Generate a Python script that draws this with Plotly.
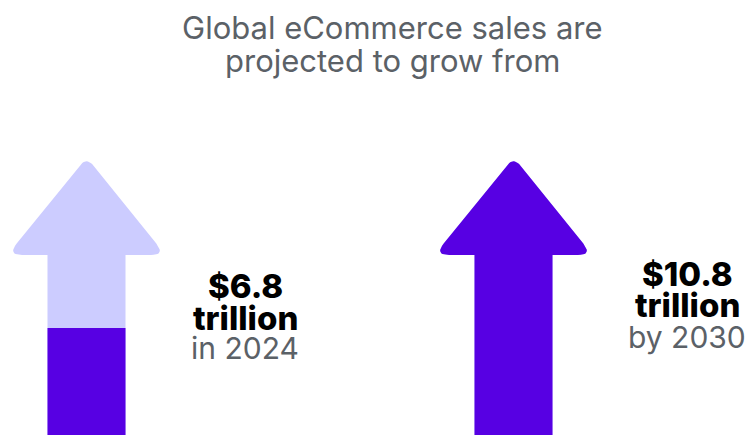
import math
import plotly.graph_objects as go

# --- data -------------------------------------------------------------
years = ["2024", "2030"]
sales_trillion = [6.8, 10.8]
value_labels = ["$6.8", "$10.8"]
unit_labels = ["trillion", "trillion"]
period_labels = ["in 2024", "by 2030"]
title_lines = ["Global eCommerce sales are", "projected to grow from"]

# --- layout constants ------------------------------------------------
W, H = 750, 435
Y_MIN, Y_MAX = 4.297, 14.472          # visible value window (trillions)
PX_PER_UNIT = H / (Y_MAX - Y_MIN)      # vertical pixels per trillion
ARROW_CENTERS = [86.5, 513.5]          # x positions of the arrows (x axis = px)
SHAFT_W = 78
HEAD_W = 158
HEAD_H_PX = 98
LIGHT = "#CCCCFF"
DARK = "#5700E3"
TEXT_GRAY = "#5B6167"

tip_value = max(sales_trillion)        # both arrows reach the projected peak
head_base = tip_value - HEAD_H_PX / PX_PER_UNIT


def rounded(points, radii, steps=10):
    """Round polygon corners; works in pixel space, returns value space."""
    pts = [(x, y * PX_PER_UNIT) for x, y in points]
    n = len(pts)
    out = []
    for i in range(n):
        r = radii[i]
        px, py = pts[i]
        if r <= 0:
            out.append((px, py))
            continue
        ax, ay = pts[i - 1]
        bx, by = pts[(i + 1) % n]
        v1 = (ax - px, ay - py)
        v2 = (bx - px, by - py)
        l1 = math.hypot(*v1)
        l2 = math.hypot(*v2)
        u1 = (v1[0] / l1, v1[1] / l1)
        u2 = (v2[0] / l2, v2[1] / l2)
        cosang = max(-1.0, min(1.0, u1[0] * u2[0] + u1[1] * u2[1]))
        ang = math.acos(cosang)
        d = r / math.tan(ang / 2)
        p1 = (px + u1[0] * d, py + u1[1] * d)
        p2 = (px + u2[0] * d, py + u2[1] * d)
        # quadratic bezier through the corner
        for k in range(steps + 1):
            t = k / steps
            x = (1 - t) ** 2 * p1[0] + 2 * (1 - t) * t * px + t ** 2 * p2[0]
            y = (1 - t) ** 2 * p1[1] + 2 * (1 - t) * t * py + t ** 2 * p2[1]
            out.append((x, y))
    return [(x, y / PX_PER_UNIT) for x, y in out]


def arrow_outline(cx):
    s, h = SHAFT_W / 2, HEAD_W / 2
    pts = [
        (cx - s, 0.0),
        (cx - s, head_base),
        (cx - h, head_base),
        (cx, tip_value),
        (cx + h, head_base),
        (cx + s, head_base),
        (cx + s, 0.0),
    ]
    radii = [0, 0, 7, 9, 7, 0, 0]
    return rounded(pts, radii)


def clip_below(poly, level):
    """Keep the part of a polygon at or below a horizontal level."""
    out = []
    n = len(poly)
    for i in range(n):
        cur = poly[i]
        nxt = poly[(i + 1) % n]
        cin = cur[1] <= level
        nin = nxt[1] <= level
        if cin:
            out.append(cur)
        if cin != nin:
            t = (level - cur[1]) / (nxt[1] - cur[1])
            out.append((cur[0] + t * (nxt[0] - cur[0]), level))
    return out


fig = go.Figure()

for cx, val in zip(ARROW_CENTERS, sales_trillion):
    outline = arrow_outline(cx)
    xs, ys = zip(*outline)
    fig.add_trace(go.Scatter(
        x=list(xs) + [xs[0]], y=list(ys) + [ys[0]], mode="lines",
        fill="toself", fillcolor=LIGHT, line=dict(width=0, color=LIGHT),
        hoverinfo="skip", showlegend=False,
    ))
    filled = clip_below(outline, val)
    fx, fy = zip(*filled)
    fig.add_trace(go.Scatter(
        x=list(fx) + [fx[0]], y=list(fy) + [fy[0]], mode="lines",
        fill="toself", fillcolor=DARK, line=dict(width=0, color=DARK),
        hoverinfo="skip", showlegend=False,
    ))


def ypaper(px):
    return 1 - px / H


annotations = []
# title
for line, ypx in zip(title_lines, [27, 61]):
    annotations.append(dict(
        text=line, x=392, xref="x", y=ypaper(ypx), yref="paper",
        xanchor="center", yanchor="middle", showarrow=False,
        font=dict(family="Inter", size=31, color=TEXT_GRAY),
    ))

label_x = [245, 687]
label_rows = [[286, 318, 348], [274, 305, 337]]
for i in range(len(years)):
    rows = label_rows[i]
    for text, ypx, style in zip(
        [value_labels[i], unit_labels[i], period_labels[i]], rows,
        ["bold", "bold", "light"],
    ):
        if style == "bold":
            font = dict(family="Inter", size=33, color="#000000", weight=800)
        else:
            font = dict(family="Inter", size=30, color=TEXT_GRAY)
        annotations.append(dict(
            text=text, x=label_x[i], xref="x", y=ypaper(ypx), yref="paper",
            xanchor="center", yanchor="middle", showarrow=False, font=font,
        ))

fig.update_layout(
    width=W, height=H,
    margin=dict(l=0, r=0, t=0, b=0),
    paper_bgcolor="white", plot_bgcolor="white",
    xaxis=dict(range=[0, W], visible=False, fixedrange=True),
    yaxis=dict(range=[Y_MIN, Y_MAX], visible=False, fixedrange=True),
    annotations=annotations,
    showlegend=False,
)

fig.write_html("out.html", config={"displayModeBar": False})
